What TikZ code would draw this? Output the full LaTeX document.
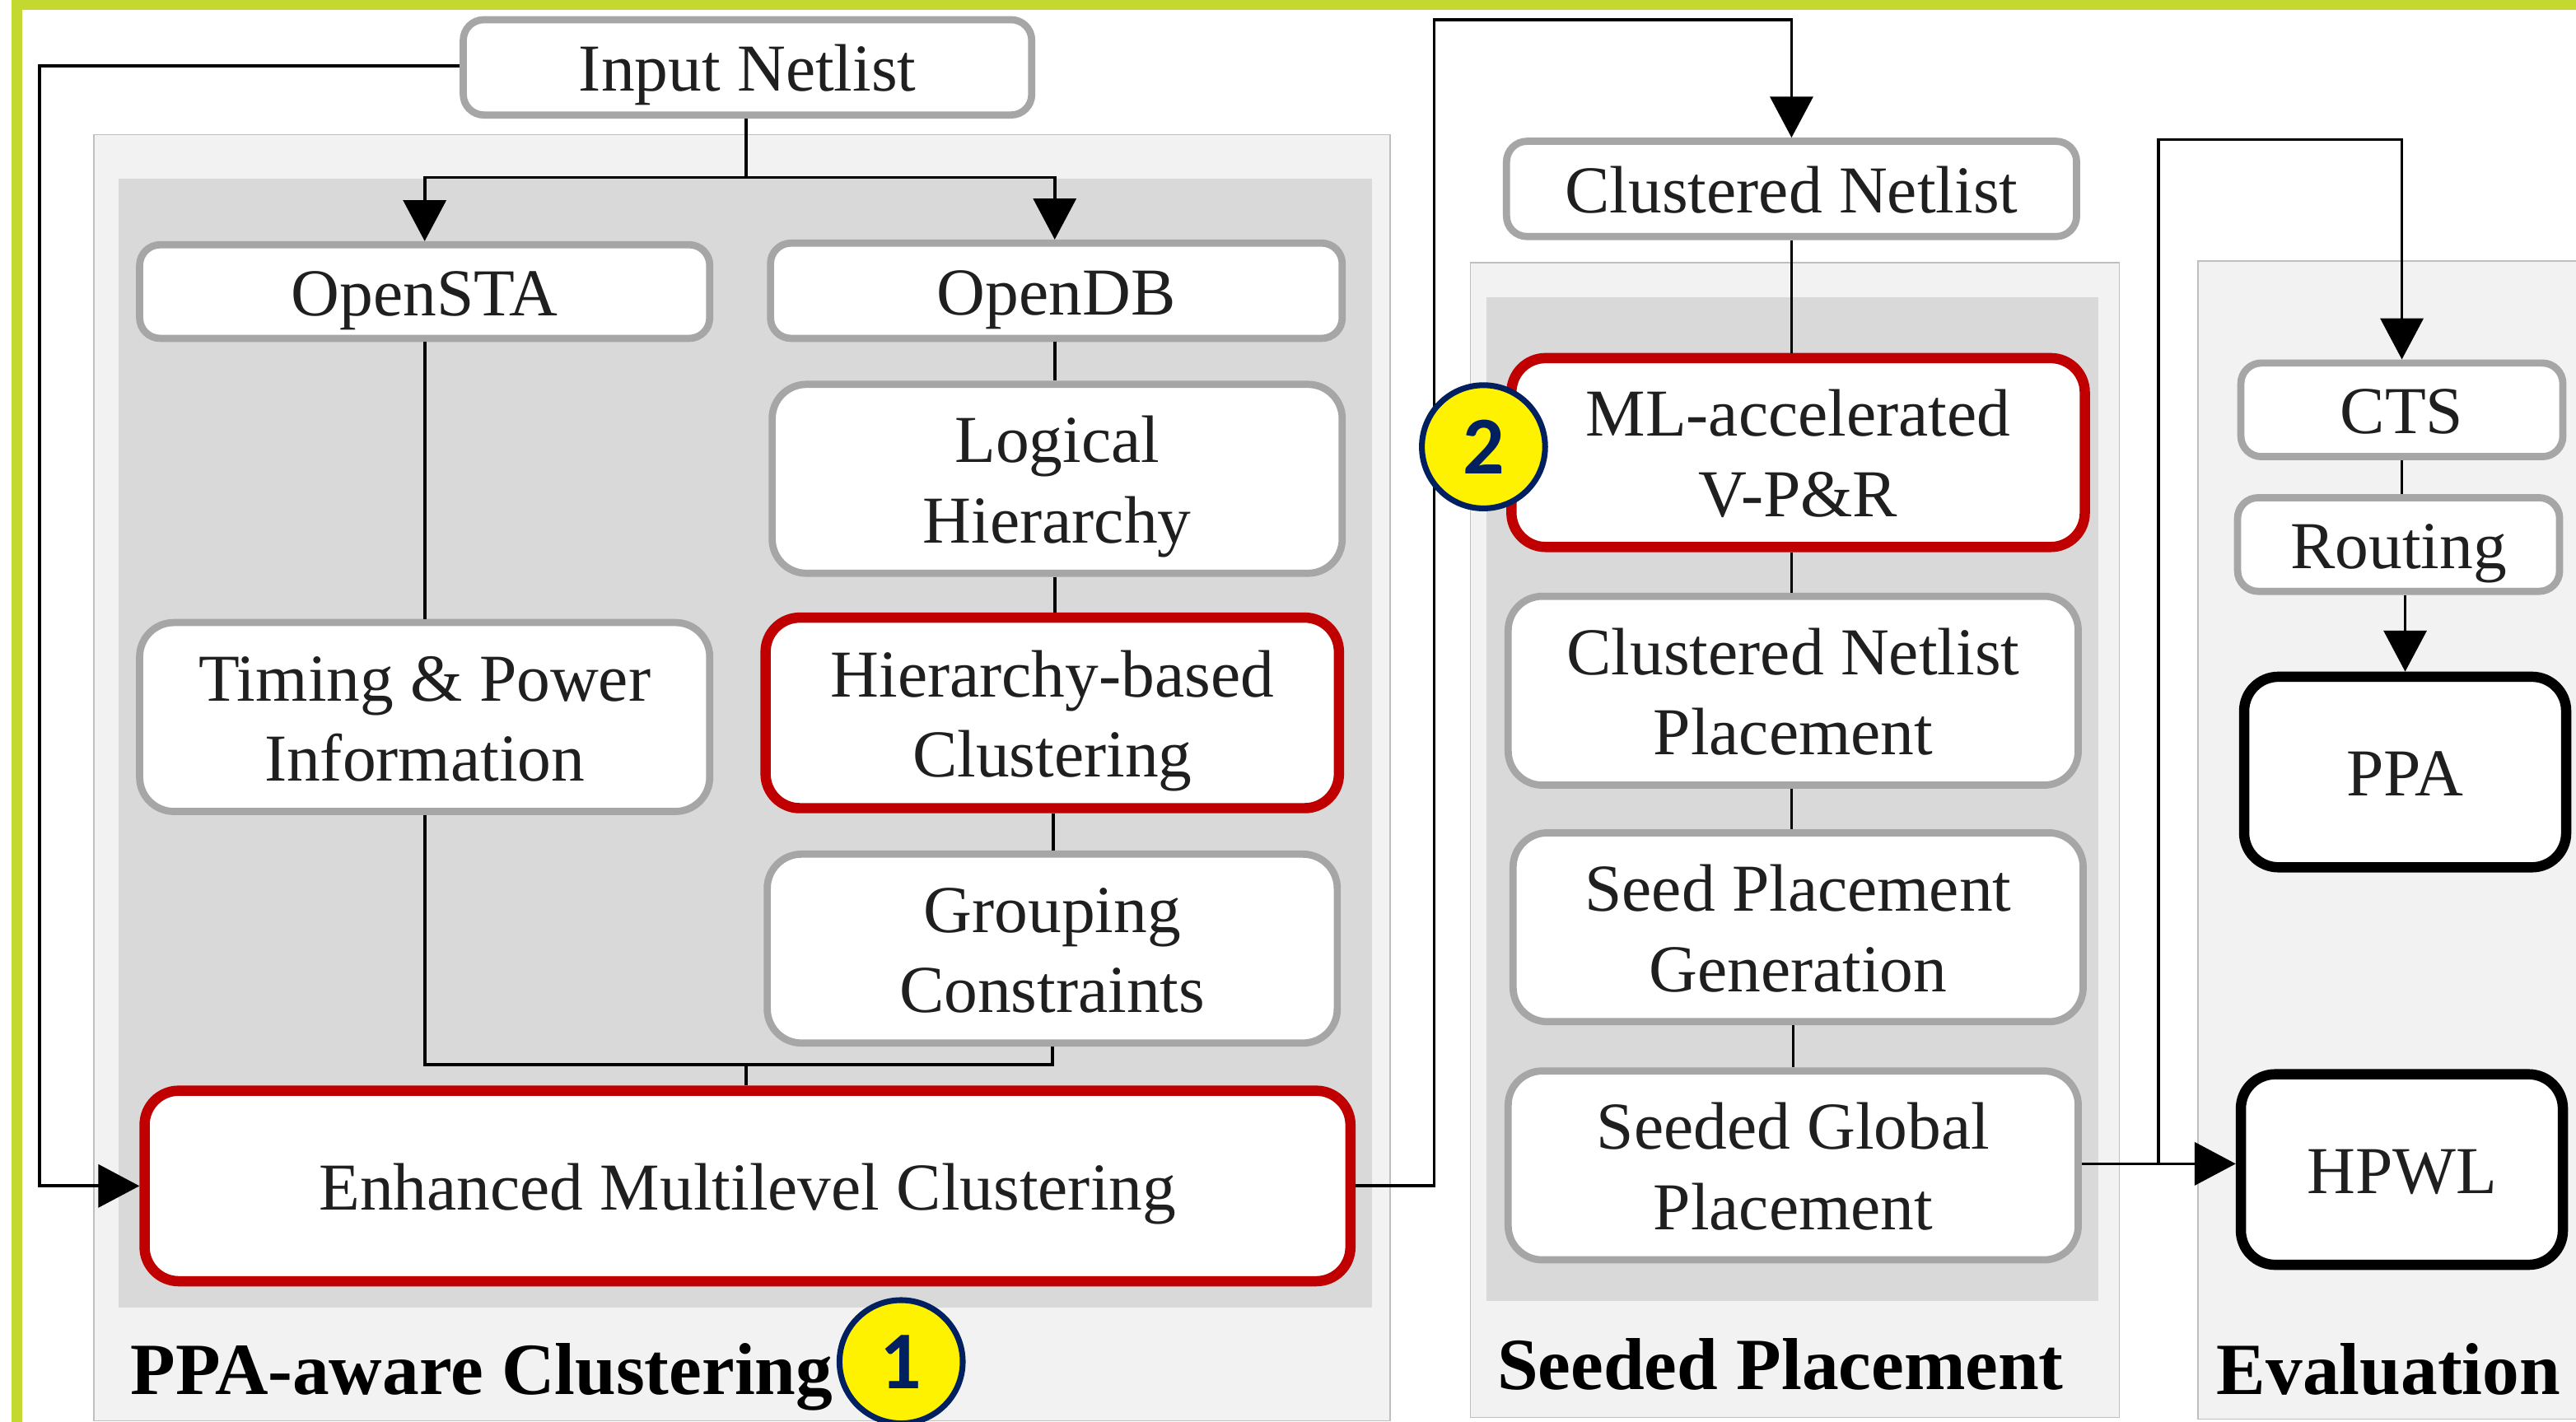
\documentclass[tikz,border=0pt]{standalone}
\usepackage{fontspec}
\setmainfont{Liberation Serif}
\newfontfamily\numfont{Carlito}[Scale=1]
\usetikzlibrary{arrows.meta}
\definecolor{lime}{HTML}{C4D92F}
\definecolor{boxgray}{HTML}{A6A6A6}
\definecolor{boxred}{HTML}{C00000}
\definecolor{panelout}{HTML}{F2F2F2}
\definecolor{panelin}{HTML}{D9D9D9}
\definecolor{panelline}{HTML}{BFBFBF}
\definecolor{navy}{HTML}{002060}
\definecolor{inktext}{HTML}{1F1F1F}
\newcommand{\unitpt}{0.48}
\newcommand{\lbl}[1]{\rule{0pt}{14pt}\smash{#1}}
\newcommand{\bx}[7][]{%
  \pgfmathsetmacro{\bw}{(#5-#3)*\unitpt}%
  \pgfmathsetmacro{\bh}{(#6-#4)*\unitpt}%
  \node[basebox,#1,minimum width=\bw pt,minimum height=\bh pt] (#2) at ({(#3+#5)/2},{(#4+#6)/2}) {#7};}
\newcommand{\pn}[7][]{%
  \pgfmathsetmacro{\bw}{(#5-#3)*\unitpt}%
  \pgfmathsetmacro{\bh}{(#6-#4)*\unitpt}%
  \node[#1,minimum width=\bw pt,minimum height=\bh pt,inner sep=0pt,outer sep=0pt] (#2) at ({(#3+#5)/2},{(#4+#6)/2}) {#7};}
\tikzset{
  basebox/.style={rectangle,rounded corners=6pt,fill=white,inner sep=0pt,align=center,text=inktext,
    font=\fontsize{19.6}{23.5}\selectfont},
  graybox/.style={draw=boxgray,line width=2.1pt},
  redbox/.style={draw=boxred,line width=3pt},
  blackbox/.style={draw=black,line width=3pt},
  tall/.style={rounded corners=10pt},
  panelA/.style={fill=panelout,draw=panelline,line width=0.4pt},
  panelB/.style={fill=panelin},
  title/.style={anchor=base west,inner sep=0pt,font=\fontsize{21.5}{26}\selectfont\bfseries,text=black},
  conn/.style={draw=black,line width=0.9pt},
  arr/.style={conn,-{Triangle[length=12pt,width=12.5pt]}},
  badge/.style={circle,draw=navy,fill=yellow,line width=1.7pt,minimum size=36pt,inner sep=0pt,
    text=navy,font=\fontsize{24}{26}\selectfont\numfont\bfseries}
}
\begin{document}
\begin{tikzpicture}[x=0.48pt,y=-0.48pt]
\useasboundingbox (0,0) rectangle (1568,865.7);
\clip (0,0) rectangle (1568,865.7);
\fill[white] (0,0) rectangle (1568,865.7);
% frame
\pn[fill=lime]{framet}{7}{0}{1568}{6}{}
\pn[fill=lime]{framel}{7}{0}{13.5}{866}{}
% panels
\pn[panelA]{pa}{57}{82}{846}{865}{}
\pn[panelB]{pai}{72}{109}{835}{796}{}
\pn[panelA]{pb}{895}{160}{1290}{863}{}
\pn[panelB]{pbi}{905}{181}{1277}{792}{}
\pn[panelA]{pc}{1338}{159}{1590}{864}{}
% titles
\node[title] (ta) at (79,849) {PPA-aware Clustering};
\node[title] (tb) at (911,846) {Seeded Placement};
\node[title] (tc) at (1349,849) {Evaluation};
% boxes
\bx[graybox]{input}{282}{12}{628}{70}{\lbl{Input Netlist}}
\bx[graybox]{sta}{85}{149}{432}{206}{\lbl{OpenSTA}}
\bx[graybox]{db}{469}{148}{817}{206}{\lbl{OpenDB}}
\bx[graybox,tall]{logic}{470}{234}{817}{349}{\lbl{Logical}\\\lbl{Hierarchy}}
\bx[graybox,tall]{timing}{85}{379}{432}{494}{\lbl{Timing \& Power}\\\lbl{Information}}
\bx[redbox,tall]{hier}{466}{376}{815}{492}{\lbl{Hierarchy-based}\\\lbl{Clustering}}
\bx[graybox,tall]{group}{467}{520}{814}{635}{\lbl{Grouping}\\\lbl{Constraints}}
\bx[redbox,tall]{enh}{88}{664}{822}{780}{\lbl{Enhanced Multilevel Clustering}}
\bx[graybox]{cnet}{917}{86}{1264}{144}{\lbl{Clustered Netlist}}
\bx[redbox,tall]{ml}{920}{218}{1269}{333}{\lbl{ML-accelerated}\\\lbl{V-P\&R}}
\bx[graybox,tall]{cnp}{918}{363}{1265}{478}{\lbl{Clustered Netlist}\\\lbl{Placement}}
\bx[graybox,tall]{spg}{921}{507}{1268}{622}{\lbl{Seed Placement}\\\lbl{Generation}}
\bx[graybox,tall]{sgp}{918}{652}{1265}{767}{\lbl{Seeded Global}\\\lbl{Placement}}
\bx[graybox]{cts}{1364}{221}{1560}{278}{\lbl{CTS}}
\bx[graybox]{route}{1362}{303}{1558}{360}{\lbl{Routing}}
\bx[blackbox,tall]{ppa}{1366}{412}{1562}{528}{\lbl{PPA}}
\bx[blackbox,tall]{hpwl}{1364}{654}{1560}{770}{\lbl{HPWL}}
% junction coordinates
\coordinate (j1) at (454,108);
\coordinate (j2) at (454,648);
\coordinate (l1) at (24,40);
\coordinate (r1) at (873,12);
\coordinate (b1) at (1314,85);
\coordinate (so) at (1267,708.5);
\coordinate (dbx) at (642,0);
\coordinate (hierx) at (641,0);
\coordinate (ctsx) at (1462,0);
% connectors
\draw[conn] (input.south -| j1) -- (j1);
\draw[arr] (j1) -| (sta.north);
\draw[arr] (j1) -| (dbx |- db.north);
\draw[arr] (input.west |- l1) -- (l1) |- (enh.west);
\draw[conn] (sta.south) -- (timing.north);
\draw[conn] (timing.south) |- (j2);
\draw[conn] (group.south) |- (j2);
\draw[conn] (j2) -- (j2 |- enh.north);
\draw[conn] (dbx |- db.south) -- (dbx |- logic.north);
\draw[conn] (dbx |- logic.south) -- (dbx |- hier.north);
\draw[conn] (hierx |- hier.south) -- (hierx |- group.north);
\draw[arr] (enh.east) -| (r1) -| (cnet.north);
\draw[conn] (cnet.south) -- (cnet.south |- ml.north);
\draw[conn] (cnet.south |- ml.south) -- (cnet.south |- cnp.north);
\draw[conn] (cnet.south |- cnp.south) -- (cnet.south |- spg.north);
\draw[conn] (sgp.north |- spg.south) -- (sgp.north);
\draw[arr] (so) -- (so -| hpwl.west);
\draw[arr] (so -| b1) -- (b1) -| (ctsx |- cts.north);
\draw[conn] (ctsx |- cts.south) -- (ctsx |- route.north);
\draw[arr] (ppa.north |- route.south) -- (ppa.north);
% badges
\node[badge] (one) at (548.5,829) {1};
\node[badge] (two) at (903,272) {2};
\end{tikzpicture}
\end{document}
